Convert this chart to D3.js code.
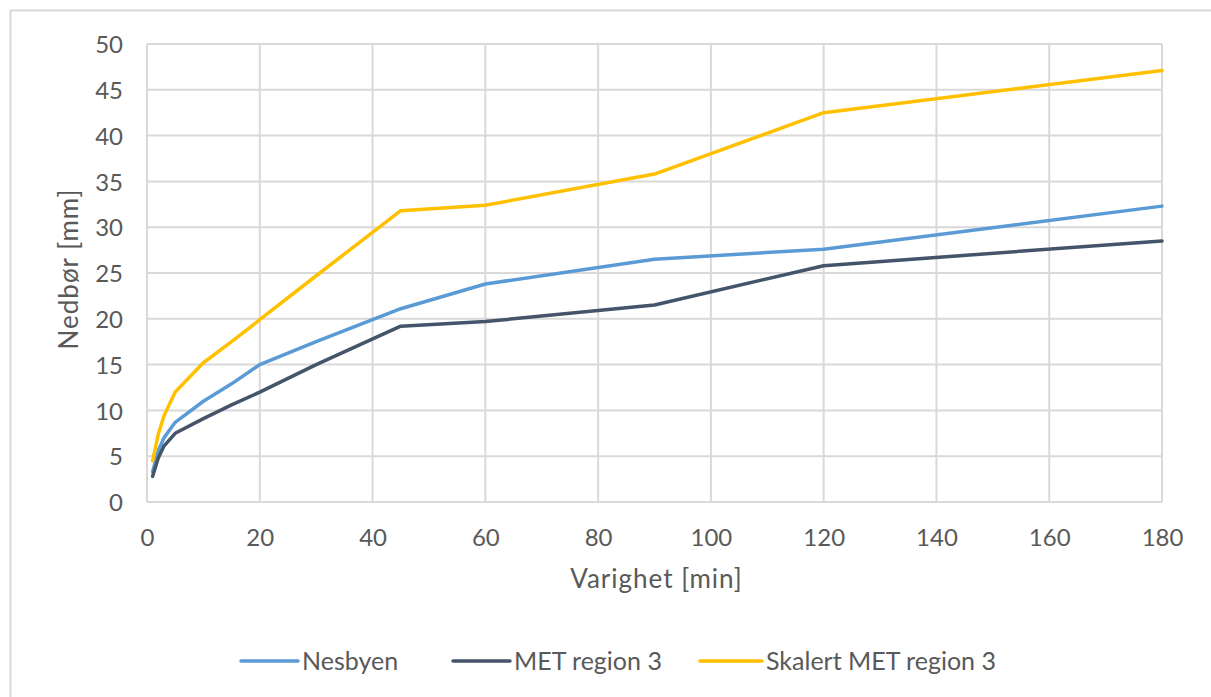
<!DOCTYPE html>
<html>
<head>
<meta charset="utf-8">
<script src="https://cdn.jsdelivr.net/npm/d3@7"></script>
<style>
  html, body { margin: 0; padding: 0; background: #fff; }
  svg { display: block; }
  text { font-family: Lato, "Open Sans", sans-serif; fill: #595959; }
</style>
</head>
<body>
<svg id="chart" width="1211" height="697"></svg>
<script>
// Duration (minutes) and precipitation depth (mm)
const durations = [1, 2, 3, 5, 10, 15, 20, 30, 45, 60, 90, 120, 180];
const nesbyen   = [3.3, 5.6, 7.0, 8.7, 11.0, 12.9, 15.0, 17.5, 21.1, 23.8, 26.5, 27.6, 32.3];
const metRegion = [2.8, 4.8, 6.1, 7.5, 9.1, 10.6, 12.0, 15.0, 19.2, 19.7, 21.5, 25.8, 28.5];
const skalert   = [4.5, 7.4, 9.4, 12.0, 15.2, 17.5, 19.9, 24.7, 31.8, 32.4, 35.8, 42.5, 47.1];

const seriesNames  = ["Nesbyen", "MET region 3", "Skalert MET region 3"];
const seriesColors = ["#5B9BD5", "#44546A", "#FFC000"];
const xTicks = [0, 20, 40, 60, 80, 100, 120, 140, 160, 180];
const yTicks = [0, 5, 10, 15, 20, 25, 30, 35, 40, 45, 50];

const series = [nesbyen, metRegion, skalert].map((vals, i) => ({
  name: seriesNames[i],
  color: seriesColors[i],
  points: durations.map((d, j) => ({ x: d, y: vals[j] }))
}));

const svg = d3.select("#chart");

// outer chart frame
svg.append("rect")
  .attr("x", 10.5).attr("y", 10.5)
  .attr("width", 1230).attr("height", 720)
  .attr("fill", "none").attr("stroke", "#d9d9d9").attr("stroke-width", 2);

const plot = { left: 147, right: 1162, top: 44, bottom: 502 };

const x = d3.scaleLinear().domain([0, 180]).range([plot.left, plot.right]);
const y = d3.scaleLinear().domain([0, 50]).range([plot.bottom, plot.top]);

// gridlines
const grid = svg.append("g");
grid.selectAll("line.h").data(yTicks).join("line")
  .attr("x1", plot.left).attr("x2", plot.right)
  .attr("y1", d => y(d)).attr("y2", d => y(d))
  .attr("stroke", "#d9d9d9").attr("stroke-width", 2);
grid.selectAll("line.v").data(xTicks).join("line")
  .attr("y1", plot.top).attr("y2", plot.bottom)
  .attr("x1", d => x(d)).attr("x2", d => x(d))
  .attr("stroke", "#d9d9d9").attr("stroke-width", 2);

// axes (labels only; grid lines form the frame)
const xAxis = svg.append("g")
  .attr("transform", `translate(0,${plot.bottom})`)
  .call(d3.axisBottom(x).tickValues(xTicks).tickSize(0).tickPadding(27));
const yAxis = svg.append("g")
  .attr("transform", `translate(${plot.left},0)`)
  .call(d3.axisLeft(y).tickValues(yTicks).tickSize(0).tickPadding(24));
[xAxis, yAxis].forEach(g => {
  g.select(".domain").remove();
  g.selectAll("text").style("font-size", "24px").attr("fill", "#595959")
    .style("font-family", "Lato, 'Open Sans', sans-serif");
});
xAxis.selectAll("text").attr("dy", "0.72em");
yAxis.selectAll("text").attr("dy", "0.36em");

// axis titles
svg.append("text")
  .attr("x", (plot.left + plot.right) / 2 + 2).attr("y", 588)
  .attr("text-anchor", "middle").style("font-size", "26px")
  .style("letter-spacing", "1px")
  .text("Varighet [min]");
svg.append("text")
  .attr("transform", `translate(78,${(plot.top + plot.bottom) / 2 - 4}) rotate(-90)`)
  .attr("text-anchor", "middle").style("font-size", "26px")
  .style("letter-spacing", "1px")
  .text("Nedbør [mm]");

// series lines
const line = d3.line().x(d => x(d.x)).y(d => y(d.y));
svg.append("g").selectAll("path").data(series).join("path")
  .attr("d", d => line(d.points))
  .attr("fill", "none")
  .attr("stroke", d => d.color)
  .attr("stroke-width", 3.5)
  .attr("stroke-linejoin", "round")
  .attr("stroke-linecap", "round");

// legend
const legendItems = [
  { x: 241, tx: 302 },
  { x: 453, tx: 514 },
  { x: 700, tx: 766 }
];
const legend = svg.append("g");
series.forEach((s, i) => {
  const it = legendItems[i];
  legend.append("line")
    .attr("x1", it.x).attr("x2", it.tx - 4)
    .attr("y1", 661).attr("y2", 661)
    .attr("stroke", s.color).attr("stroke-width", 3.5)
    .attr("stroke-linecap", "round");
  legend.append("text")
    .attr("x", it.tx).attr("y", 661).attr("dy", "0.36em")
    .style("font-size", "25px")
    .text(s.name);
});
</script>
</body>
</html>
